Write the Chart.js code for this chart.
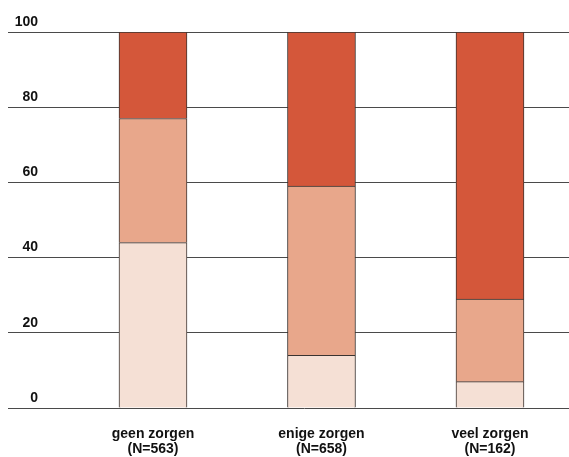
<!DOCTYPE html>
<html>
<head>
<meta charset="utf-8">
<script src="https://cdn.jsdelivr.net/npm/chart.js@4/dist/chart.umd.min.js"></script>
<style>
  html, body { margin: 0; padding: 0; background: #fff; }
  #wrap { width: 569px; height: 457px; }
</style>
</head>
<body>
<div id="wrap"><canvas id="chart"></canvas></div>
<script>
'use strict';

// categories and group sizes
const categories = ['geen zorgen', 'enige zorgen', 'veel zorgen'];
const groupSizes = ['(N=563)', '(N=658)', '(N=162)'];

// stacked shares (percent), bottom to top
const lowShare = [44, 14, 7];
const midShare = [33, 45, 22];
const highShare = [23, 41, 71];

const yTicks = [0, 20, 40, 60, 80, 100];

const FONT = "'Liberation Sans Narrow', 'Arial Narrow', 'Liberation Sans', sans-serif";

const toPoints = (arr) => arr.map((v, i) => ({ x: i + 1, y: v }));

const mkSet = (label, arr, color) => ({
  label: label,
  data: toPoints(arr),
  backgroundColor: color,
  borderColor: '#3a3330',
  borderWidth: 1,
  barThickness: 68
});

const ctx = document.getElementById('chart');
new Chart(ctx, {
  type: 'bar',
  data: {
    datasets: [
      mkSet('laag', lowShare, '#f5e0d5'),
      mkSet('midden', midShare, '#e8a78b'),
      mkSet('hoog', highShare, '#d4573a')
    ]
  },
  options: {
    responsive: true,
    maintainAspectRatio: false,
    animation: false,
    layout: { padding: { top: 32, right: 0, left: 0, bottom: 0 } },
    plugins: {
      legend: { display: false },
      tooltip: { enabled: false }
    },
    scales: {
      x: {
        type: 'linear',
        stacked: true,
        offset: false,
        min: 0.3294,
        max: 3.469,
        afterBuildTicks: (scale) => {
          scale.ticks = categories.map((c, i) => ({ value: i + 1 }));
        },
        afterFit: (scale) => {
          scale.height = 49;
        },
        grid: { display: false, drawTicks: false },
        border: { display: false },
        ticks: {
          autoSkip: false,
          maxRotation: 0,
          padding: 19,
          color: '#111',
          font: { family: FONT, size: 14, weight: 'bold', lineHeight: 1.07 },
          callback: (v) => {
            const i = Math.round(v) - 1;
            return [categories[i], groupSizes[i]];
          }
        }
      },
      y: {
        stacked: true,
        min: 0,
        max: 100,
        afterBuildTicks: (scale) => {
          scale.ticks = yTicks.map((v) => ({ value: v }));
        },
        afterFit: (scale) => {
          scale.width = 40;
        },
        grid: {
          color: '#4a4a4a',
          lineWidth: 1,
          drawTicks: true,
          tickLength: 32
        },
        border: { display: false },
        ticks: {
          padding: -30,
          labelOffset: -10,
          color: '#111',
          font: { family: FONT, size: 14, weight: 'bold' }
        }
      }
    }
  }
});
</script>
</body>
</html>
